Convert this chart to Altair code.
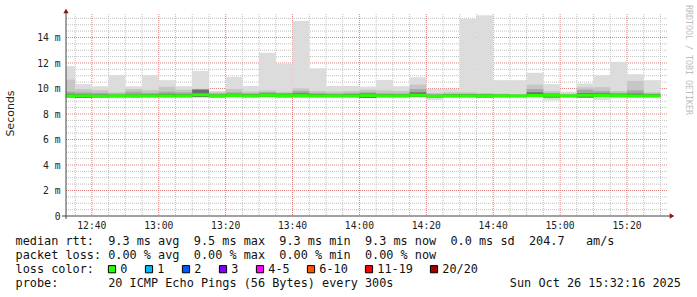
import altair as alt
import pandas as pd

# ---------------- data (in ms) ----------------
first_slot = "12:30"          # start of first 5-minute slot
n_slots = 36
slot_minutes = 5
view_start = "12:32:16"
view_end = "15:32:16"

rtt_max = [11.75, 10.34, 10.18, 11.04, 10.18, 11.04, 10.65, 10.18, 11.38, 9.81, 10.91, 10.20,
           12.80, 11.95, 15.30, 11.58, 10.20, 10.20, 10.15, 10.67, 10.18, 10.88, 9.97, 9.97,
           15.44, 15.75, 10.65, 10.65, 11.23, 10.34, 9.76, 10.39, 11.04, 12.09, 11.12, 10.65]
rtt_q90 = [10.70, 9.95, 9.86, 9.70, 9.95, 9.86, 10.13, 9.90, 9.98, 9.70, 9.95, 9.75,
           9.85, 9.75, 10.00, 9.80, 9.75, 9.80, 9.90, 9.85, 9.80, 10.30, 9.65, 9.70,
           9.70, 9.65, 9.60, 9.55, 10.30, 9.80, 9.60, 10.10, 10.10, 9.80, 10.60, 9.70]
rtt_q75 = [9.75, 9.70, 9.65, 9.60, 9.75, 9.65, 9.75, 9.70, 9.95, 9.60, 9.70, 9.62,
           9.70, 9.62, 9.80, 9.65, 9.60, 9.65, 9.70, 9.62, 9.60, 9.95, 9.55, 9.58,
           9.58, 9.55, 9.52, 9.50, 9.95, 9.65, 9.52, 9.90, 9.80, 9.65, 9.85, 9.60]
rtt_q60 = [9.58, 9.55, 9.52, 9.50, 9.55, 9.55, 9.58, 9.56, 9.90, 9.52, 9.58, 9.55,
           9.60, 9.58, 9.62, 9.56, 9.54, 9.55, 9.60, 9.55, 9.54, 9.70, 9.50, 9.54,
           9.56, 9.54, 9.52, 9.50, 9.70, 9.58, 9.50, 9.65, 9.62, 9.58, 9.60, 9.55]
rtt_med = [9.42, 9.42, 9.40, 9.42, 9.42, 9.42, 9.42, 9.42, 9.50, 9.42, 9.44, 9.42,
           9.46, 9.44, 9.44, 9.42, 9.42, 9.42, 9.44, 9.42, 9.42, 9.47, 9.40, 9.42,
           9.42, 9.42, 9.42, 9.42, 9.45, 9.46, 9.42, 9.47, 9.45, 9.44, 9.42, 9.42]
rtt_lo = [9.30, 9.26, 9.30, 9.32, 9.32, 9.32, 9.32, 9.32, 9.33, 9.32, 9.33, 9.32,
          9.34, 9.32, 9.32, 9.32, 9.32, 9.32, 9.26, 9.32, 9.32, 9.35, 9.30, 9.32,
          9.32, 9.30, 9.32, 9.32, 9.34, 9.29, 9.32, 9.30, 9.34, 9.32, 9.32, 9.32]
rtt_min = [9.28, 9.26, 9.28, 9.22, 9.30, 9.30, 9.30, 9.30, 9.25, 9.30, 9.30, 9.30,
           9.30, 9.30, 9.30, 9.30, 9.30, 9.30, 9.26, 9.30, 9.30, 9.30, 9.10, 9.30,
           9.30, 9.28, 9.30, 9.30, 9.30, 9.06, 9.30, 9.28, 9.10, 9.30, 9.30, 9.30]

y_max = 15.84
major_y = [2, 4, 6, 8, 10, 12, 14]
y_label_values = [0, 2, 4, 6, 8, 10, 12, 14]
y_label_text = ["0", "2 m", "4 m", "6 m", "8 m", "10 m", "12 m", "14 m"]
x_label_text = ["12:40", "13:00", "13:20", "13:40", "14:00", "14:20", "14:40", "15:00", "15:20"]
legend_labels = ["0", "1", "2", "3", "4-5", "6-10", "11-19", "20/20"]
legend_colors = ["#26ff00", "#00b8ff", "#0059ff", "#7e00ff", "#ff00ff", "#ff5500", "#ff0000", "#a10000"]

line1 = "median rtt:  9.3 ms avg  9.5 ms max  9.3 ms min  9.3 ms now  0.0 ms sd  204.7   am/s"
line2 = "packet loss: 0.00 % avg  0.00 % max  0.00 % min  0.00 % now"
line3 = "loss color:"
line4 = "probe:       20 ICMP Echo Pings (56 Bytes) every 300s"
stamp = "Sun Oct 26 15:32:16 2025"
side_note = "RRDTOOL / TOBI OETIKER"
y_title = "Seconds"

# ---------------- helpers ----------------
DAY0 = pd.Timestamp("2025-10-26T00:00:00Z").value // 10**6


def to_ms(hms):
    parts = [int(p) for p in hms.split(":")]
    while len(parts) < 3:
        parts.append(0)
    return DAY0 + (parts[0] * 3600 + parts[1] * 60 + parts[2]) * 1000


t_first = to_ms(first_slot)
step = slot_minutes * 60000
df = pd.DataFrame({
    "t0": [t_first + i * step for i in range(n_slots)],
    "t1": [t_first + (i + 1) * step for i in range(n_slots)],
    "mx": rtt_max, "q90": rtt_q90, "q75": rtt_q75, "q60": rtt_q60,
    "med": rtt_med, "lo": rtt_lo, "mn": rtt_min,
})

d0, d1 = to_ms(view_start), to_ms(view_end)
xs = alt.Scale(type="utc", domain=[d0, d1])
ys = alt.Scale(domain=[0, y_max], nice=False, zero=True)

W, H = 602, 202
PADL, PADT = 66, 14

five_min = [t for t in range(to_ms("12:35"), d1, step)]
major_x = [to_ms(s) for s in x_label_text]
minor_x = [t for t in five_min if t not in major_x]
half = [k * 0.5 for k in range(1, int(y_max * 2) + 1)]
minor_y = [v for v in half if v not in major_y]

MONO = "DejaVu Sans Mono"
GRID_GRAY = "#c0c0c0"
GRID_RED = "#dd8080"

vgrid_minor = alt.Chart(pd.DataFrame({"t": minor_x})).mark_rule(
    strokeDash=[1, 1], strokeWidth=1, color=GRID_GRAY
).encode(x=alt.X("t:T", scale=xs, axis=None), y=alt.value(0), y2=alt.value(H))
vgrid_major = alt.Chart(pd.DataFrame({"t": major_x})).mark_rule(
    strokeDash=[1, 1], strokeWidth=1, color=GRID_RED
).encode(x=alt.X("t:T", scale=xs, axis=None), y=alt.value(0), y2=alt.value(H))
hgrid_minor = alt.Chart(pd.DataFrame({"v": minor_y})).mark_rule(
    strokeDash=[1, 1], strokeWidth=1, color=GRID_GRAY
).encode(y=alt.Y("v:Q", scale=ys, axis=None), x=alt.value(0), x2=alt.value(W))
hgrid_major = alt.Chart(pd.DataFrame({"v": major_y})).mark_rule(
    strokeDash=[1, 1], strokeWidth=1, color=GRID_RED
).encode(y=alt.Y("v:Q", scale=ys, axis=None), x=alt.value(0), x2=alt.value(W))

x_axis = alt.Axis(values=five_min, labels=False, domain=False, grid=False, tickSize=3,
                  tickColor="#444", title=None)
y_axis = alt.Axis(values=[k * 0.5 for k in range(0, 32)], labels=False, domain=False,
                  grid=False, tickSize=3, tickColor="#444", title=None)

smoke1 = alt.Chart(df).mark_rect(clip=True, color="#dcdcdc").encode(
    x=alt.X("t0:T", scale=xs, axis=x_axis), x2="t1:T",
    y=alt.Y("mn:Q", scale=ys, axis=y_axis), y2="mx:Q")
smoke2 = alt.Chart(df).mark_rect(clip=True, color="#c6c6c6").encode(
    x=alt.X("t0:T", scale=xs, axis=None), x2="t1:T",
    y=alt.Y("lo:Q", scale=ys, axis=None), y2="q90:Q")
smoke3 = alt.Chart(df).mark_rect(clip=True, color="#a8a8a8").encode(
    x=alt.X("t0:T", scale=xs, axis=None), x2="t1:T",
    y=alt.Y("lo:Q", scale=ys, axis=None), y2="q75:Q")
smoke4 = alt.Chart(df).mark_rect(clip=True, color="#6e6e6e").encode(
    x=alt.X("t0:T", scale=xs, axis=None), x2="t1:T",
    y=alt.Y("lo:Q", scale=ys, axis=None), y2="q60:Q")
median = alt.Chart(df).mark_rule(clip=True, color="#26ff00", strokeWidth=3).encode(
    x=alt.X("t0:T", scale=xs, axis=None), x2="t1:T",
    y=alt.Y("med:Q", scale=ys, axis=None))

# tick labels drawn through the same scales
xlab = alt.Chart(pd.DataFrame({"t": major_x, "s": x_label_text})).mark_text(
    align="center", baseline="alphabetic", font=MONO, fontSize=9.7, color="#222"
).encode(x=alt.X("t:T", scale=xs, axis=None), y=alt.value(H + 12.5), text="s:N")
ylab = alt.Chart(pd.DataFrame({"yv": y_label_values, "s": y_label_text})).mark_text(
    align="right", baseline="middle", font=MONO, fontSize=9.7, color="#222", dy=1
).encode(y=alt.Y("yv:Q", scale=ys, axis=None), x=alt.value(-5.5), text="s:N")

one = pd.DataFrame({"k": [0]})
x_line = alt.Chart(one).mark_rule(color="#444", strokeWidth=1).encode(
    x=alt.value(-4), x2=alt.value(W + 2), y=alt.value(H))
y_line = alt.Chart(one).mark_rule(color="#444", strokeWidth=1).encode(
    x=alt.value(0), y=alt.value(-2), y2=alt.value(H + 3))
arrow_up = alt.Chart(one).mark_point(shape="triangle-up", filled=True, size=28,
                                     color="#8c1414", opacity=1).encode(
    x=alt.value(0), y=alt.value(-3))
arrow_right = alt.Chart(one).mark_point(shape="triangle-right", filled=True, size=28,
                                        color="#8c1414", opacity=1).encode(
    x=alt.value(W + 4), y=alt.value(H))


def nb(s):
    return s.replace(" ", "\u00a0")


def text_layer(s, x, y, **kw):
    return alt.Chart(pd.DataFrame({"s": [nb(s)]})).mark_text(**kw).encode(
        text="s:N", x=alt.value(x), y=alt.value(y))


LEG = dict(align="left", baseline="alphabetic", font=MONO, fontSize=11.85, color="#111")
t1 = text_layer(line1, 15.5 - PADL, 244.5 - PADT, **LEG)
t2 = text_layer(line2, 15.5 - PADL, 258.8 - PADT, **LEG)
t3 = text_layer(line3, 15.5 - PADL, 273.1 - PADT, **LEG)
t4 = text_layer(line4, 15.5 - PADL, 287.3 - PADT, **LEG)
t5 = text_layer(stamp, 681 - PADL, 287.3 - PADT, **{**LEG, "align": "right"})
ttl = text_layer(y_title, 11 - PADL, 113.5 - PADT, align="center", baseline="middle",
                 font="DejaVu Sans", fontSize=11, color="#222", angle=270)
side = text_layer(side_note, 687.5 - PADL, 60 - PADT, align="center", baseline="middle",
                  font=MONO, fontSize=8.3, color="#bdbdbd", angle=90)

# legend swatches laid out like rrdtool: advance = 37 px + 7 px per extra label char
box_left = []
pos = 108.0
for lab in legend_labels:
    box_left.append(pos)
    pos += 37 + 7 * (len(lab) - 1)
leg_df = pd.DataFrame({
    "lab": legend_labels, "col": legend_colors,
    "bx": [b + 4 - PADL for b in box_left],
    "tx": [b + 12.3 - PADL for b in box_left],
})
boxes = alt.Chart(leg_df).mark_square(size=52, filled=True, stroke="#000", strokeWidth=1,
                                      opacity=1).encode(
    x=alt.X("bx:Q", scale=None, axis=None), y=alt.value(269.2 - PADT),
    fill=alt.Fill("col:N", scale=None, legend=None))
box_text = alt.Chart(leg_df).mark_text(**LEG).encode(
    x=alt.X("tx:Q", scale=None, axis=None), y=alt.value(273.1 - PADT), text="lab:N")

chart = alt.layer(
    vgrid_minor, hgrid_minor, vgrid_major, hgrid_major,
    smoke1, smoke2, smoke3, smoke4, median,
    x_line, y_line, arrow_up, arrow_right, xlab, ylab,
    t1, t2, t3, t4, t5, ttl, side, boxes, box_text,
).properties(
    width=W, height=H,
    autosize=alt.AutoSizeParams(type="none"),
    padding={"left": PADL, "top": PADT, "right": 697 - PADL - W, "bottom": 297 - PADT - H},
    background="white",
).configure_view(stroke=None)

chart.save("out.html", embed_options={"renderer": "svg", "actions": False})
